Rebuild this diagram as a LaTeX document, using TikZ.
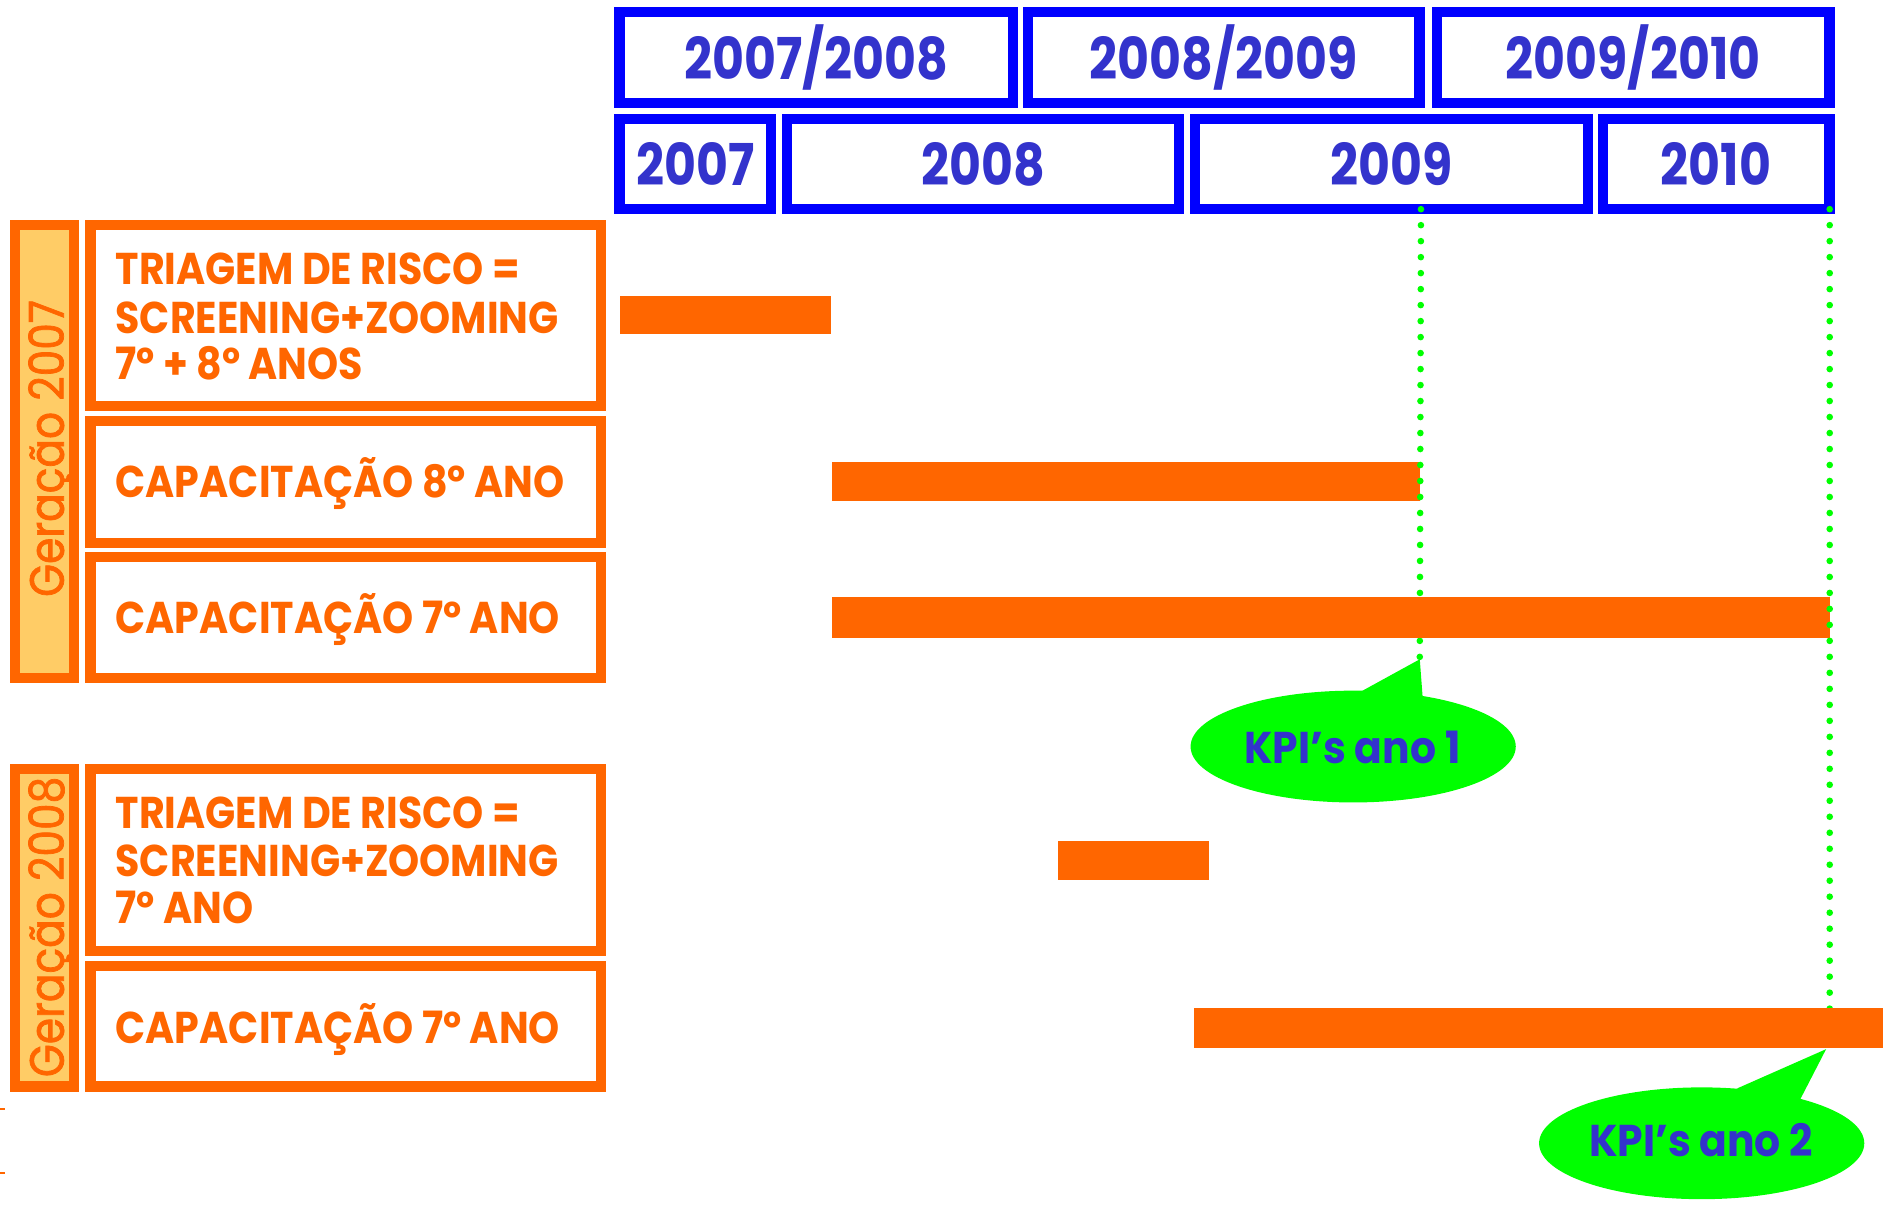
\documentclass[tikz,border=0pt]{standalone}
\usepackage{fontspec}
\setmainfont{Poppins}
\newfontfamily\yearfont[FakeStretch=0.85]{Poppins}
\newfontfamily\boxfont[FakeStretch=0.89]{Poppins}
\newfontfamily\genfont[FakeStretch=0.88,FakeBold=1.5]{Poppins}
\newfontfamily\kpifont[FakeStretch=0.92]{Poppins}
\usetikzlibrary{shapes.geometric}
\definecolor{oran}{HTML}{FF6600}
\definecolor{lightor}{HTML}{FFCC66}
\definecolor{bborder}{HTML}{0000FF}
\definecolor{btext}{HTML}{3333CC}
\definecolor{kgreen}{HTML}{00FF00}
\tikzset{
  ybox/.style={draw=bborder, line width=8.5pt, fill=white, inner sep=0pt,
    text=btext, font=\yearfont\fontsize{48}{48}\selectfont\bfseries},
  obox/.style={draw=oran, line width=8.5pt, fill=white},
  genbox/.style={draw=oran, line width=8.5pt, fill=lightor},
  otext/.style={text=oran, inner sep=0pt, anchor=base west,
    font=\boxfont\fontsize{37}{39.5}\selectfont\bfseries},
  gentext/.style={text=oran, inner sep=0pt, anchor=base, rotate=90,
    font=\genfont\fontsize{40}{40}\selectfont},
  bar/.style={fill=oran},
  greendots/.style={draw=kgreen, line width=5.5pt, line cap=round,
    dash pattern=on 0pt off 13.3pt},
  kpi/.style={ellipse, fill=kgreen, inner sep=0pt,
    minimum width=270.5pt, minimum height=93pt},
  kpitext/.style={text=btext, inner sep=0pt,
    font=\kpifont\fontsize{37}{37}\selectfont\bfseries},
}
\begin{document}
\begin{tikzpicture}[x=1pt,y=-1pt]
\useasboundingbox (0,0) rectangle (1568,1004);
% year header boxes
\node[ybox, minimum width=327.5pt, minimum height=75.5pt] (y0708) at (679,48) {2007/2008};
\node[ybox, minimum width=325.5pt, minimum height=75.5pt] (y0809) at (1018,48) {2008/2009};
\node[ybox, minimum width=326.5pt, minimum height=75.5pt] (y0910) at (1358.5,48) {2009/2010};
\node[ybox, minimum width=126pt, minimum height=74.5pt] (y07) at (578.25,136.5) {2007};
\node[ybox, minimum width=326pt, minimum height=74.5pt] (y08) at (817.75,136.5) {2008};
\node[ybox, minimum width=326.5pt, minimum height=74.5pt] (y09) at (1157.5,136.5) {2009};
\node[ybox, minimum width=188.5pt, minimum height=74.5pt] (y10) at (1427.5,136.5) {2010};
% generation 2007
\draw[genbox] (12.25,187.25) rectangle (61.75,563.75);
\node[gentext] (g07) at (53,373) {Geração 2007};
\draw[obox] (75.25,187.25) rectangle (499.75,337.75);
\node[otext] (t1a) at (96,237) {TRIAGEM DE RISCO =};
\node[otext] (t1b) at (96,277) {SCREENING+ZOOMING};
\node[otext] (t1c) at (96,316) {7º + 8º ANOS};
\draw[obox] (75.25,350.25) rectangle (499.75,451.75);
\node[otext] (c8) at (96,414) {CAPACITAÇÃO 8º ANO};
\draw[obox] (75.25,463.25) rectangle (499.75,563.75);
\node[otext] (c7) at (96,527) {CAPACITAÇÃO 7º ANO};
% generation 2008
\draw[genbox] (12.25,639.75) rectangle (61.75,903.75);
\node[gentext] (g08) at (53,771) {Geração 2008};
\draw[obox] (75.25,639.75) rectangle (499.75,790.75);
\node[otext] (t2a) at (96,689) {TRIAGEM DE RISCO =};
\node[otext] (t2b) at (96,729) {SCREENING+ZOOMING};
\node[otext] (t2c) at (96,768) {7º ANO};
\draw[obox] (75.25,803.25) rectangle (499.75,903.75);
\node[otext] (c72) at (96,868) {CAPACITAÇÃO 7º ANO};
% small marks
\draw[oran, line width=1.5pt] (0,922.5) -- (4,922.5);
\draw[oran, line width=1.5pt] (0,976) -- (4,976);
% callouts
\node[kpi] (kpi1) at (1125.6,621) {};
\node[kpitext] (kpi1t) at (1125,622) {KPI’s ano 1};
\coordinate (tip1) at (1181,548.4);
\fill[kgreen] (1130.7,576) -- (tip1) -- (1183.4,580) -- cycle;
\node[kpi] (kpi2) at (1415.5,951) {};
\node[kpitext] (kpi2t) at (1415,948) {KPI’s ano 2};
\coordinate (tip2) at (1519,872.7);
\fill[kgreen] (1444.7,905.5) -- (tip2) -- (1497.4,914.6) -- cycle;
% bars and milestones
\fill[bar] (516,246) rectangle (691,278);
\fill[bar] (692,384) rectangle (1181,417);
\coordinate (top1) at (1182,174);
\coordinate (top2) at (1522,174);
\draw[greendots] (top1) -- (tip1);
\fill[bar] (692,497) rectangle (1522,530.5);
\draw[greendots] (top2) -- (1522,874);
\fill[bar] (880,699.5) rectangle (1006,732);
\fill[bar] (993.5,838.5) rectangle (1566,871.5);
\end{tikzpicture}
\end{document}
